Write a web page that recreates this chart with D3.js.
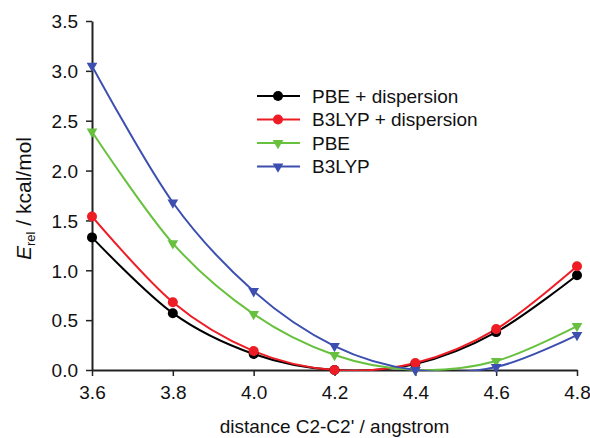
<!DOCTYPE html>
<html>
<head>
<meta charset="utf-8">
<script src="https://cdn.jsdelivr.net/npm/d3@7"></script>
<style>
  body { margin: 0; background: #fff; }
  svg text { font-family: "Liberation Sans", Arial, sans-serif; fill: #111; }
</style>
</head>
<body>
<div id="chart"></div>
<script>
const distances = [3.6, 3.8, 4.0, 4.2, 4.4, 4.6, 4.8];
const pbeDisp = [1.33, 0.57, 0.16, 0.0, 0.06, 0.38, 0.95];
const b3lypDisp = [1.54, 0.68, 0.19, 0.0, 0.07, 0.41, 1.04];
const pbe = [2.39, 1.27, 0.56, 0.15, 0.0, 0.09, 0.44];
const b3lyp = [3.05, 1.68, 0.79, 0.24, 0.0, 0.03, 0.35];

const seriesNames = ["PBE + dispersion", "B3LYP + dispersion", "PBE", "B3LYP"];
const xTicks = [3.6, 3.8, 4.0, 4.2, 4.4, 4.6, 4.8];
const yTicks = [0, 0.5, 1.0, 1.5, 2.0, 2.5, 3.0, 3.5];

const W = 590, H = 438;
const margin = { top: 21, right: 13, bottom: 68, left: 92 };
const width = W - margin.left - margin.right;
const height = H - margin.top - margin.bottom;

const series = [
  { name: seriesNames[0], values: pbeDisp, color: "#000000", shape: "circle" },
  { name: seriesNames[1], values: b3lypDisp, color: "#ee1c24", shape: "circle" },
  { name: seriesNames[2], values: pbe, color: "#68c03f", shape: "tri" },
  { name: seriesNames[3], values: b3lyp, color: "#3c4fb0", shape: "tri" }
];

const svg = d3.select("#chart").append("svg")
  .attr("width", W)
  .attr("height", H);

const g = svg.append("g").attr("transform", `translate(${margin.left},${margin.top})`);

const x = d3.scaleLinear().domain([3.6, 4.8]).range([0, width]);
const y = d3.scaleLinear().domain([0, 3.5]).range([height, 0]);

// axes
const xAxis = g.append("g")
  .attr("transform", `translate(0,${height})`)
  .call(d3.axisBottom(x).tickValues(xTicks).tickFormat(d3.format(".1f")).tickSize(6).tickSizeOuter(0));
const yAxis = g.append("g")
  .call(d3.axisLeft(y).tickValues(yTicks).tickFormat(d3.format(".1f")).tickSize(6).tickSizeOuter(0));

[xAxis, yAxis].forEach(a => {
  a.select(".domain").attr("stroke", "#222").attr("stroke-width", 2);
  a.selectAll(".tick line").attr("stroke", "#222").attr("stroke-width", 1.5);
  a.selectAll(".tick text").attr("font-size", 19).attr("fill", "#111")
    .attr("font-family", "Liberation Sans, Arial, sans-serif");
});
xAxis.selectAll(".tick text").attr("dy", "1.05em");
yAxis.selectAll(".tick text").attr("x", -14).attr("dy", "0.36em");

// clip for the smoothed lines
svg.append("defs").append("clipPath").attr("id", "plot-clip")
  .append("rect").attr("x", 0).attr("y", -2).attr("width", width + 2).attr("height", height + 3);

const line = d3.line()
  .x((d, i) => x(distances[i]))
  .y(d => y(d))
  .curve(d3.curveCatmullRom.alpha(0));

const tri = d3.symbol().type(d3.symbolTriangle).size(50);

function drawMarker(sel, s) {
  if (s.shape == "circle") {
    sel.append("circle").attr("r", 5).attr("fill", s.color);
  } else {
    sel.append("path").attr("d", tri).attr("transform", "rotate(180)").attr("fill", s.color);
  }
}

const lineGroup = g.append("g").attr("clip-path", "url(#plot-clip)");
for (const s of series) {
  lineGroup.append("path")
    .attr("d", line(s.values))
    .attr("fill", "none")
    .attr("stroke", s.color)
    .attr("stroke-width", 2);
}

for (const s of series) {
  g.append("g").selectAll("g")
    .data(s.values)
    .join("g")
    .attr("transform", (d, i) => `translate(${x(distances[i])},${y(d)})`)
    .each(function () { drawMarker(d3.select(this), s); });
}

// legend
const legend = svg.append("g").attr("transform", "translate(257,96)");
series.forEach((s, i) => {
  const row = legend.append("g").attr("transform", `translate(0,${i * 23.5})`);
  row.append("line").attr("x1", 0).attr("x2", 43).attr("stroke", s.color).attr("stroke-width", 2);
  drawMarker(row.append("g").attr("transform", "translate(21,0)"), s);
  row.append("text").attr("x", 55).attr("dy", "0.36em").attr("font-size", 19).text(s.name);
});

// axis titles
svg.append("text")
  .attr("x", margin.left + width / 2)
  .attr("y", 433)
  .attr("text-anchor", "middle")
  .attr("font-size", 19)
  .text("distance C2-C2' / angstrom");

const yTitle = svg.append("text")
  .attr("transform", `translate(31,${margin.top + height / 2 + 3}) rotate(-90)`)
  .attr("text-anchor", "middle")
  .attr("font-size", 21);
yTitle.append("tspan").attr("font-style", "italic").text("E");
yTitle.append("tspan").attr("font-size", 13).attr("dy", 4).text("rel");
yTitle.append("tspan").attr("dy", -4).text(" / kcal/mol");
</script>
</body>
</html>
